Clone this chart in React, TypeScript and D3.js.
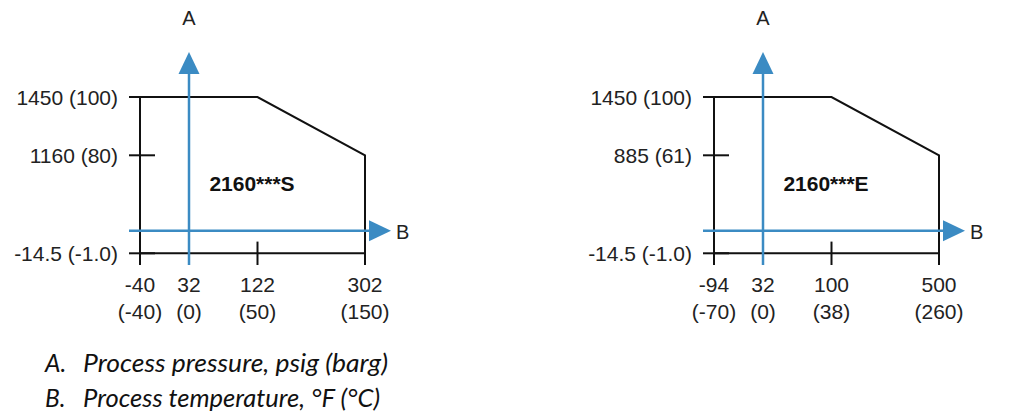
import React from "react";
import * as d3 from "d3";

// ---- Data ----
const panelNames = ["2160***S", "2160***E"];

// temperature ticks (°F) and their °C labels, per panel
const tempF_S = [-40, 32, 122, 302];
const tempC_S = [-40, 0, 50, 150];
const tempF_E = [-94, 32, 100, 500];
const tempC_E = [-70, 0, 38, 260];

// pressure ticks (psig) and their barg labels, per panel
const pressPsig_S = [-14.5, 1160, 1450];
const pressBarg_S = ["-1.0", "80", "100"];
const pressPsig_E = [-14.5, 885, 1450];
const pressBarg_E = ["-1.0", "61", "100"];

// operating envelope outline (°F, psig)
const envelope_S: [number, number][] = [[-40, 1450], [122, 1450], [302, 1160], [302, -14.5], [-40, -14.5]];
const envelope_E: [number, number][] = [[-94, 1450], [100, 1450], [500, 885], [500, -14.5], [-94, -14.5]];

const legendKeys = ["A.", "B."];
const legendTexts = ["Process pressure, psig (barg)", "Process temperature, °F (°C)"];

// ---- Layout ----
const W = 1010, H = 416;
const BLUE = "#3b8bc3";
const INK = "#111";
const FONT = "'Liberation Sans', Arial, sans-serif";
const panelLeft = [140, 714];
// schematic (non-uniform) placement of ticks within a panel
const xStops = [0, 49, 117.5, 225];
const yStops = [253.3, 230.7, 155.3, 97];

type Panel = {
  name: string; tf: number[]; tc: number[]; pp: number[]; pb: string[]; env: [number, number][]; left: number;
};

const panels: Panel[] = [
  { name: panelNames[0], tf: tempF_S, tc: tempC_S, pp: pressPsig_S, pb: pressBarg_S, env: envelope_S, left: panelLeft[0] },
  { name: panelNames[1], tf: tempF_E, tc: tempC_E, pp: pressPsig_E, pb: pressBarg_E, env: envelope_E, left: panelLeft[1] },
];

function PanelView({ p }: { p: Panel }) {
  const x = d3.scaleLinear().domain(p.tf).range(xStops.map((s) => p.left + s));
  const yDomain = [p.pp[0], 0, p.pp[1], p.pp[2]];
  const y = d3.scaleLinear().domain(yDomain).range(yStops);
  const line = d3.line<[number, number]>().x((d) => x(d[0])).y((d) => y(d[1]));
  const envPath = line(p.env) + "Z";
  const x0 = x(p.tf[0]);
  const yBottom = y(p.pp[0]);
  const tickOut = 11, tickIn = 15, xTick = 11.7;
  const ax = x(32);
  const ay = y(0);
  const arrowLen = 22, arrowHalf = 10.5;
  const hEnd = x(p.tf[3]) + 26;
  const vTop = y(p.pp[2]) - 45;
  return (
    <g>
      {/* envelope */}
      <path d={envPath} fill="none" stroke={INK} strokeWidth={2} strokeLinejoin="miter" />
      {/* pressure ticks */}
      {p.pp.map((v, i) => (
        <g key={"py" + i}>
          <line x1={x0 - tickOut} x2={x0 + tickIn} y1={y(v)} y2={y(v)} stroke={INK} strokeWidth={2} />
          <text x={x0 - tickOut - 11} y={y(v) + 8} textAnchor="end" fontFamily={FONT} fontSize={21} fill="#222">
            {`${v} (${p.pb[i]})`}
          </text>
        </g>
      ))}
      {/* temperature ticks */}
      {p.tf.map((v, i) => (
        <g key={"tx" + i}>
          {v !== 32 && (
            <line x1={x(v)} x2={x(v)} y1={yBottom - xTick} y2={yBottom + xTick} stroke={INK} strokeWidth={2} />
          )}
          <text x={x(v)} y={292} textAnchor="middle" fontFamily={FONT} fontSize={21} fill="#222">{v}</text>
          <text x={x(v)} y={318.5} textAnchor="middle" fontFamily={FONT} fontSize={21} fill="#222">{`(${p.tc[i]})`}</text>
        </g>
      ))}
      {/* blue axes */}
      <line x1={ax} x2={ax} y1={yBottom + xTick} y2={vTop + arrowLen - 1} stroke={BLUE} strokeWidth={2.5} />
      <path d={`M${ax},${vTop} L${ax + arrowHalf},${vTop + arrowLen} L${ax - arrowHalf},${vTop + arrowLen} Z`} fill={BLUE} />
      <line x1={x0 - tickOut} x2={hEnd - arrowLen + 1} y1={ay} y2={ay} stroke={BLUE} strokeWidth={2.5} />
      <path d={`M${hEnd},${ay} L${hEnd - arrowLen},${ay - arrowHalf} L${hEnd - arrowLen},${ay + arrowHalf} Z`} fill={BLUE} />
      <text x={ax} y={25} textAnchor="middle" fontFamily={FONT} fontSize={20} fill="#222">A</text>
      <text x={hEnd + 5} y={239.3} textAnchor="start" fontFamily={FONT} fontSize={20} fill="#222">B</text>
      {/* panel name */}
      <text x={p.left + 112} y={191} textAnchor="middle" fontFamily={FONT} fontSize={21} fontWeight="bold" fill="#111">
        {p.name}
      </text>
    </g>
  );
}

export default function App() {
  if (typeof document !== "undefined") document.body.style.margin = "0";
  return (
    <svg width={W} height={H} viewBox={`0 0 ${W} ${H}`} style={{ display: "block", background: "#fff" }}>
      {panels.map((p, i) => (
        <PanelView key={i} p={p} />
      ))}
      {legendKeys.map((k, i) => (
        <g key={k} fontFamily="Lato, 'Open Sans', sans-serif" fontStyle="italic" fontSize={24.5} fill="#111">
          <text x={45} y={371.5 + i * 35.5}>{k}</text>
          <text x={83} y={371.5 + i * 35.5} textLength={i === 0 ? 305 : 297} lengthAdjust="spacingAndGlyphs">
            {legendTexts[i]}
          </text>
        </g>
      ))}
    </svg>
  );
}
